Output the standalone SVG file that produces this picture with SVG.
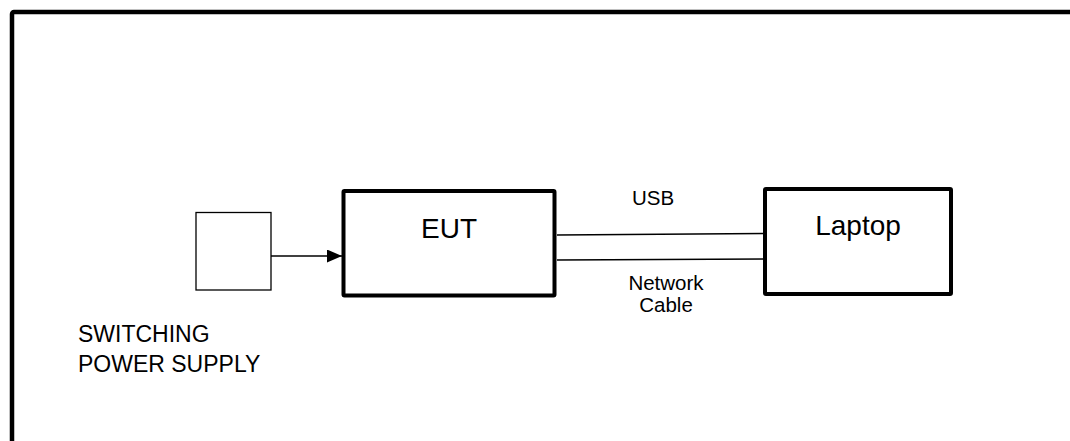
<svg xmlns="http://www.w3.org/2000/svg" width="1070" height="441" viewBox="0 0 1070 441">
<style>
.t{font-family:"Liberation Sans",Arial,sans-serif;fill:#000}
.big{font-size:28px}
.sm{font-size:20.5px}
.lbl{font-size:23px}
.thick{fill:#fff;stroke:#000;stroke-width:4}
.thin{fill:#fff;stroke:#000;stroke-width:1.3}
.ln{fill:none;stroke:#000;stroke-width:1.5}
</style>
<defs>
<marker id="ah" markerWidth="15" markerHeight="13" refX="15" refY="6.5" orient="auto" markerUnits="userSpaceOnUse">
<path d="M0,0 L15,6.5 L0,13 Z" fill="#000"/>
</marker>
</defs>
<rect width="1070" height="441" fill="#fff"/>
<rect x="12" y="12" width="1080" height="460" fill="none" stroke="#000" stroke-width="4.5" rx="2"/>
<g id="connectors">
<line class="ln" x1="271" y1="256" x2="342" y2="256" marker-end="url(#ah)"/>
<line class="ln" x1="557" y1="235" x2="764" y2="233.5"/>
<line class="ln" x1="557" y1="260" x2="764" y2="259"/>
</g>
<g id="psu">
<rect class="thin" x="196" y="212.5" width="75" height="77.5"/>
<text class="t lbl" x="78" y="341.5">SWITCHING</text>
<text class="t lbl" x="78" y="371.5">POWER SUPPLY</text>
</g>
<g id="eut">
<rect class="thick" x="343.5" y="191" width="211" height="104.5" rx="1"/>
<text class="t big" x="449" y="237.5" text-anchor="middle">EUT</text>
</g>
<g id="laptop">
<rect class="thick" x="765" y="189" width="186" height="105" rx="1"/>
<text class="t big" x="858" y="235" text-anchor="middle">Laptop</text>
</g>
<g id="labels">
<text class="t sm" x="653" y="204.5" text-anchor="middle">USB</text>
<text class="t sm" x="666" y="290" text-anchor="middle">Network</text>
<text class="t sm" x="666" y="311.5" text-anchor="middle">Cable</text>
</g>
</svg>
